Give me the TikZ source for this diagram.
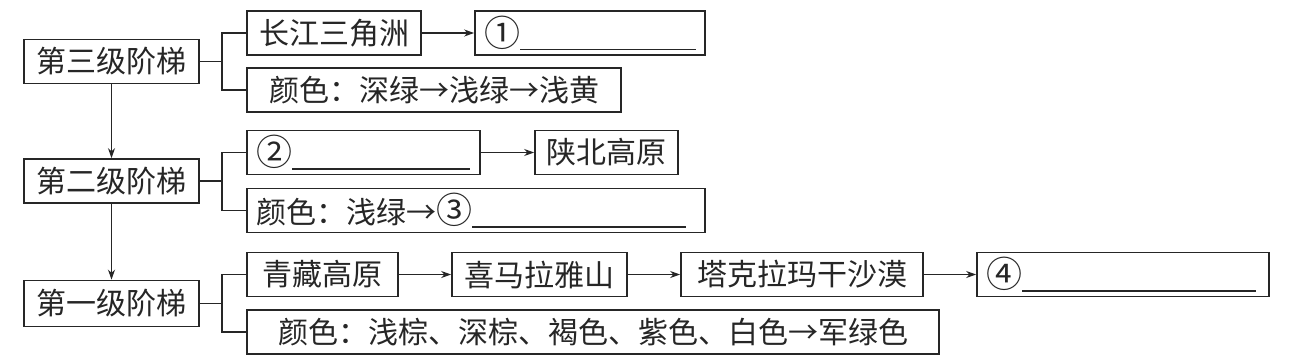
\documentclass[tikz,border=0pt]{standalone}
\usepackage{fontspec}
\newfontfamily\cjk{Noto Sans CJK SC}
\usetikzlibrary{arrows.meta}
\newcommand{\cnum}[1]{{\fontsize{36}{36}\selectfont #1}}
\begin{document}
\begin{tikzpicture}[x=1pt,y=-1pt,
  box/.style={draw=black!85, line width=1.7pt, inner sep=0pt, minimum height=44pt, font=\cjk\fontsize{30}{31}\selectfont, text=black!85},
  blank/.style={box, align=left},
  con/.style={draw=black!85, line width=1.7pt},
  arr/.style={con, -{Stealth[length=10pt,width=7pt]}}]
\useasboundingbox (0,0) rectangle (1297,362);
% level 3
\node[box, minimum width=175pt] (s3) at (111.5,61.5) {第三级阶梯};
\node[box, minimum width=174pt] (a1) at (334,33) {长江三角洲};
\node[blank, minimum width=230pt, text width=212pt] (a2) at (590,33) {\cnum{①}\rule[-4pt]{176pt}{1.4pt}};
\node[box, minimum width=374pt] (a3) at (434,90) {颜色：深绿→浅绿→浅黄};
% level 2
\node[box, minimum width=175pt] (s2) at (111.5,181) {第二级阶梯};
\node[blank, minimum width=233pt, text width=215pt] (b1) at (363.5,152.5) {\cnum{②}\rule[-4pt]{178pt}{1.4pt}};
\node[box, minimum width=143pt] (b2) at (606.5,152.5) {陕北高原};
\node[blank, minimum width=458pt, text width=440pt] (b3) at (476,210.5) {颜色：浅绿→\cnum{③}\rule[-4pt]{214pt}{1.4pt}};
% level 1
\node[box, minimum width=175pt, minimum height=46pt] (s1) at (111.5,303.5) {第一级阶梯};
\node[box, minimum width=151pt] (c1) at (322.5,274.5) {青藏高原};
\node[box, minimum width=175pt] (c2) at (539.5,274.5) {喜马拉雅山};
\node[box, minimum width=242pt] (c3) at (802,274.5) {塔克拉玛干沙漠};
\node[blank, minimum width=292pt, text width=274pt] (c4) at (1123,274.5) {\cnum{④}\rule[-4pt]{234pt}{1.4pt}};
\node[box, minimum width=692pt] (c5) at (593,332) {颜色：浅棕、深棕、褐色、紫色、白色→军绿色};
% junctions
\coordinate (j3) at (222,61.5);
\coordinate (j2) at (222,181);
\coordinate (j1) at (222,303.5);
\draw[con] (s3.east) -- (j3);
\draw[con] (a1.west) -| (j3) |- (a3.west);
\draw[con] (s2.east) -- (j2);
\draw[con] (b1.west) -| (j2) |- (b3.west);
\draw[con] (s1.east) -- (j1);
\draw[con] (c1.west) -| (j1) |- (c5.west);
% arrows
\draw[arr] (a1) -- (a2);
\draw[arr] (b1) -- (b2);
\draw[arr] (c1) -- (c2);
\draw[arr] (c2) -- (c3);
\draw[arr] (c3) -- (c4);
\draw[arr] (s3) -- (s2);
\draw[arr] (s2) -- (s1);
\end{tikzpicture}
\end{document}
